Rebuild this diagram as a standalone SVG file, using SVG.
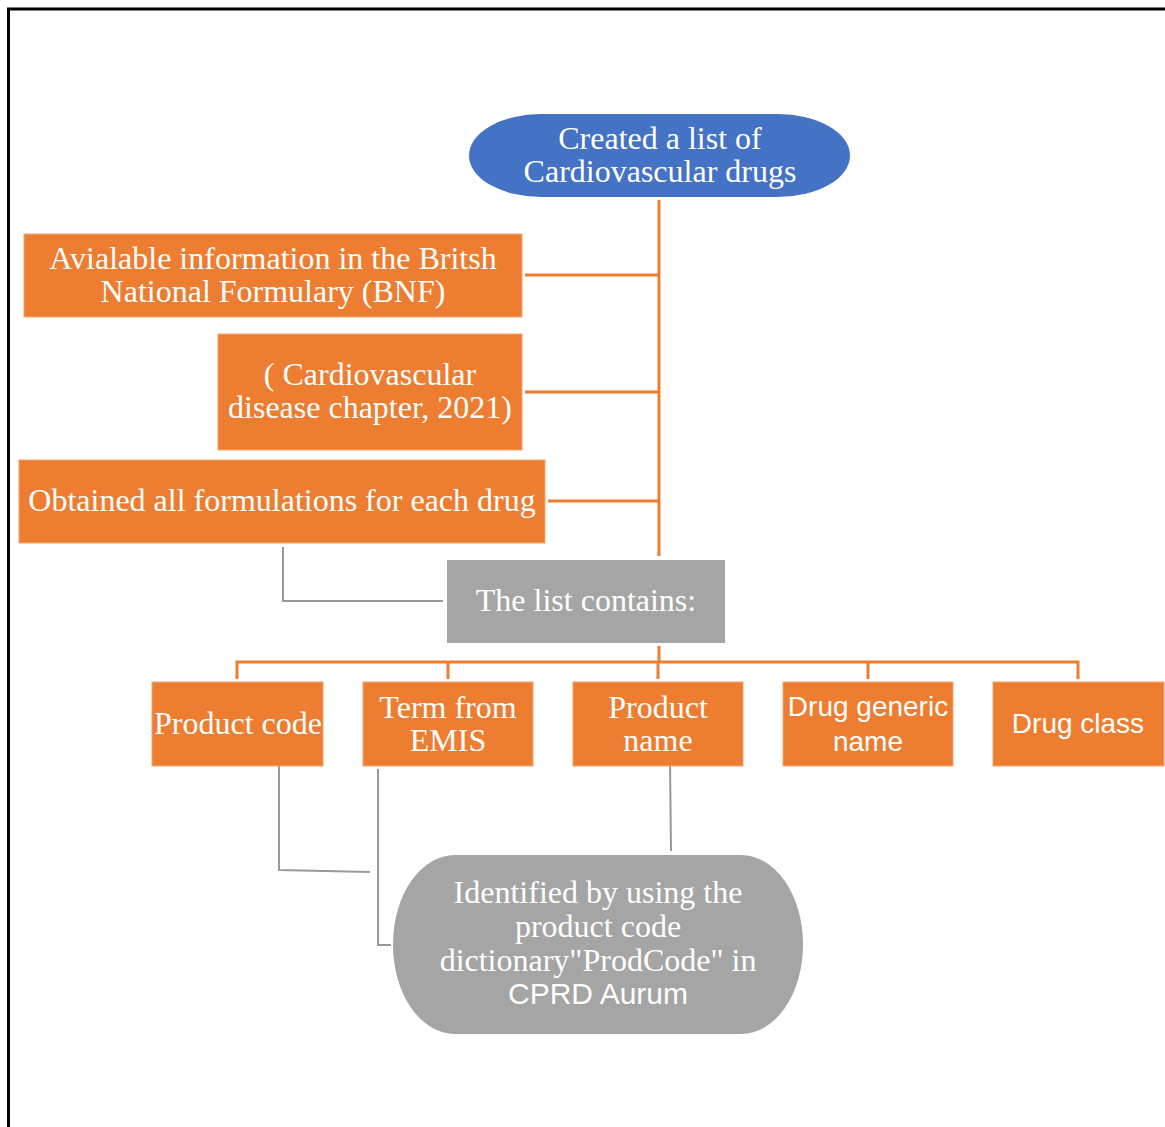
<svg xmlns="http://www.w3.org/2000/svg" width="1165" height="1127" viewBox="0 0 1165 1127">
<style>
.s{font-family:"Liberation Serif","Times New Roman",serif;font-size:32px;fill:#fff;text-anchor:middle}
.ss{font-family:"Liberation Sans",Arial,sans-serif;font-size:28px;fill:#fff;text-anchor:middle}
.o{fill:#ED7D31;stroke:#F4A56F;stroke-width:1}
.g{fill:#A5A5A5}
.co{stroke:#ED7D31;stroke-width:3;fill:none}
.cg{stroke:#999;stroke-width:2;fill:none}
</style>
<rect width="1165" height="1127" fill="#fff"/>
<path d="M8.5 1127 V9 H1165" fill="none" stroke="#000" stroke-width="3"/>
<g id="connectors">
<path class="co" d="M659 200 V556"/>
<path class="co" d="M525 275 H659"/>
<path class="co" d="M525 392 H659"/>
<path class="co" d="M548 501 H659"/>
<path class="co" d="M659 646 V662"/>
<path class="co" d="M237 679 V662 H1078 V679"/>
<path class="co" d="M448 662 V679"/>
<path class="co" d="M658 662 V679"/>
<path class="co" d="M868 662 V679"/>
<path class="cg" d="M283 547 V601 H443"/>
<path class="cg" d="M279 758 V870 L370 872"/>
<path class="cg" d="M378 769 V945 H391"/>
<path class="cg" d="M670 760 L671 851"/>
</g>
<g id="start">
<rect x="469" y="114" width="381" height="83" rx="72" ry="42" fill="#4472C4"/>
<text class="s" x="660" y="149">Created a list of</text>
<text class="s" x="660" y="182">Cardiovascular drugs</text>
</g>
<g id="bnf">
<rect class="o" x="24" y="234" width="498" height="83"/>
<text class="s" x="273" y="269">Avialable information in the Britsh</text>
<text class="s" x="273" y="302">National Formulary (BNF)</text>
</g>
<g id="chapter">
<rect class="o" x="218" y="334" width="304" height="116"/>
<text class="s" x="370" y="385">( Cardiovascular</text>
<text class="s" x="370" y="418">disease chapter, 2021)</text>
</g>
<g id="formulations">
<rect class="o" x="19" y="460" width="526" height="83"/>
<text class="s" x="282" y="511">Obtained all formulations for each drug</text>
</g>
<g id="list">
<rect class="g" x="447" y="560" width="278" height="83"/>
<text class="s" x="586" y="611">The list contains:</text>
</g>
<g id="product-code">
<rect class="o" x="152" y="682" width="171" height="84"/>
<text class="s" x="238" y="734">Product code</text>
</g>
<g id="term-emis">
<rect class="o" x="363" y="682" width="170" height="84"/>
<text class="s" x="448" y="718">Term from</text>
<text class="s" x="448" y="751">EMIS</text>
</g>
<g id="product-name">
<rect class="o" x="573" y="682" width="170" height="84"/>
<text class="s" x="658" y="718">Product</text>
<text class="s" x="658" y="751">name</text>
</g>
<g id="generic-name">
<rect class="o" x="783" y="682" width="170" height="84"/>
<text class="ss" x="868" y="716">Drug generic</text>
<text class="ss" x="868" y="751">name</text>
</g>
<g id="drug-class">
<rect class="o" x="993" y="682" width="171" height="84"/>
<text class="ss" x="1078" y="733">Drug class</text>
</g>
<g id="identified">
<rect class="g" x="393" y="855" width="410" height="179" rx="62" ry="89"/>
<text class="s" x="598" y="903">Identified by using the</text>
<text class="s" x="598" y="937">product code</text>
<text class="s" x="598" y="971">dictionary"ProdCode" in</text>
<text class="ss" x="598" y="1004" style="font-size:30px">CPRD Aurum</text>
</g>
</svg>
